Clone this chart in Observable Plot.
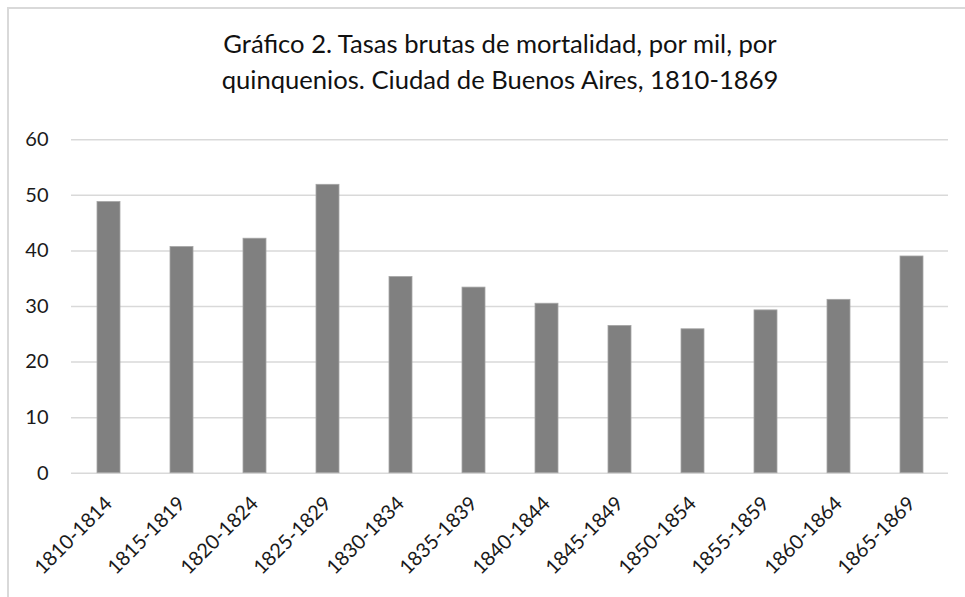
<!DOCTYPE html>
<html>
<head>
<meta charset="utf-8">
<script src="https://cdn.jsdelivr.net/npm/d3@7"></script>
<script src="https://cdn.jsdelivr.net/npm/@observablehq/plot@0.6"></script>
<style>
  html, body { margin: 0; padding: 0; background: #fff; overflow: hidden; width: 965px; height: 597px; }
  #frame { position: absolute; left: 7px; top: 7px; width: 1100px; height: 800px; border: 2px solid #d9d9d9; box-sizing: border-box; pointer-events: none; }
  #title { position: relative; box-sizing: border-box; width: 965px; height: 115px; padding-top: 25px; padding-left: 35px;
           text-align: center; font-family: Lato, "Open Sans", sans-serif; font-size: 25.6px; line-height: 36px; color: #111; }
  #chart svg { display: block; }
</style>
</head>
<body>
<div id="frame"></div>
<div id="title">Gráfico 2. Tasas brutas de mortalidad, por mil, por<br>quinquenios. Ciudad de Buenos Aires, 1810-1869</div>
<div id="chart"></div>
<script>
const categories = ["1810-1814","1815-1819","1820-1824","1825-1829","1830-1834","1835-1839",
                    "1840-1844","1845-1849","1850-1854","1855-1859","1860-1864","1865-1869"];
const values = [48.8, 40.7, 42.2, 51.9, 35.3, 33.4, 30.5, 26.5, 25.9, 29.3, 31.2, 39.0];
const yTicks = [0, 10, 20, 30, 40, 50, 60];

const data = categories.map((c, i) => ({period: c, rate: values[i]}));

const chart = Plot.plot({
  width: 965,
  height: 482,
  marginLeft: 71,
  marginRight: 17,
  marginTop: 24.3,
  marginBottom: 124.3,
  style: {fontFamily: "Lato, 'Open Sans', sans-serif", fontSize: "20px", color: "#1a1a1a", background: "transparent"},
  x: {domain: categories, paddingInner: 0.685, paddingOuter: 0.3425, label: null},
  y: {domain: [0, 60], label: null},
  marks: [
    Plot.ruleY(yTicks, {stroke: "#d9d9d9", strokeWidth: 1.5}),
    Plot.barY(data, {x: "period", y: "rate", fill: "#808080", stroke: "#a5a5a5", strokeWidth: 0.8}),
    Plot.axisY(yTicks, {tickSize: 0, tickPadding: 23, fontSize: 20, label: null}),
    Plot.axisX({tickSize: 0, tickPadding: 27, tickRotate: -45, fontSize: 20, label: null})
  ]
});
document.getElementById("chart").appendChild(chart);
</script>
</body>
</html>
